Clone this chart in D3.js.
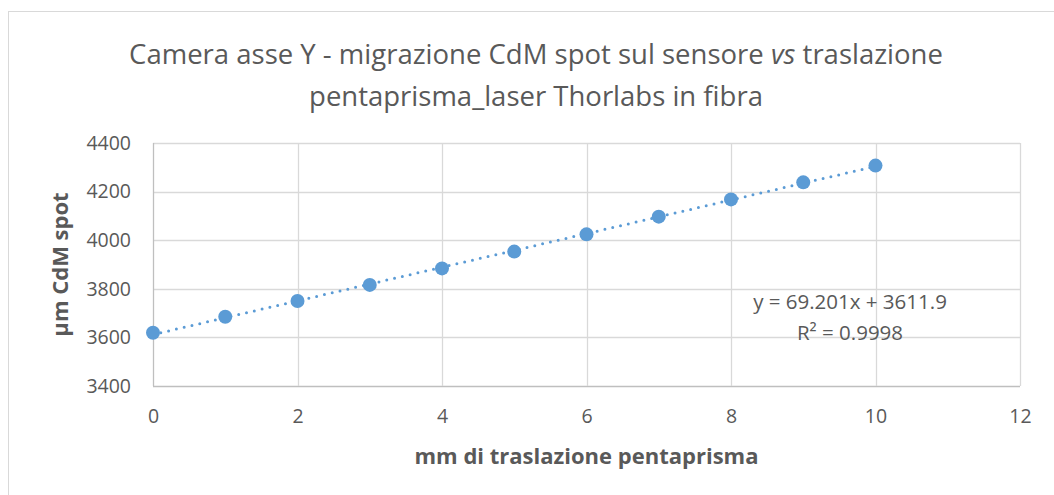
<!DOCTYPE html>
<html>
<head>
<meta charset="utf-8">
<script src="https://cdnjs.cloudflare.com/ajax/libs/d3/7.8.5/d3.min.js"></script>
<style>
  body { margin: 0; background: #fff; }
  svg text { font-family: "Open Sans", "Noto Sans", sans-serif; fill: #595959; }
</style>
</head>
<body>
<div id="chart"></div>
<script>
"use strict";
// data
var xValues = [0, 1, 2, 3, 4, 5, 6, 7, 8, 9, 10];
var yValues = [3619, 3685, 3750, 3816, 3884, 3953, 4024, 4097, 4168, 4238, 4307];
var xTicks = [0, 2, 4, 6, 8, 10, 12];
var yTicks = [3400, 3600, 3800, 4000, 4200, 4400];
var trendSlope = 69.201;
var trendIntercept = 3611.9;
var trendRange = [0, 10];

var width = 1054, height = 495;
var margin = { left: 153, right: 34, top: 143, bottom: 109 };

var svg = d3.select('#chart').append('svg')
    .attr('width', width)
    .attr('height', height);

// outer chart frame (runs past the right and bottom edges)
svg.append('rect')
    .attr('x', 8.5).attr('y', 11.5)
    .attr('width', width + 20).attr('height', height + 20)
    .attr('fill', 'none').attr('stroke', '#d9d9d9');

var x = d3.scaleLinear().domain([0, 12]).range([margin.left, width - margin.right]);
var y = d3.scaleLinear().domain([3400, 4400]).range([height - margin.bottom, margin.top]);

// grid
svg.append('g').selectAll('line').data(yTicks).enter().append('line')
    .attr('x1', x(0)).attr('x2', x(12))
    .attr('y1', function (d) { return Math.round(y(d)) + 0.5; })
    .attr('y2', function (d) { return Math.round(y(d)) + 0.5; })
    .attr('stroke', function (d) { return d === 3400 ? '#bfbfbf' : '#d9d9d9'; })
    .attr('stroke-width', 1.3);
svg.append('g').selectAll('line').data(xTicks).enter().append('line')
    .attr('y1', y(3400)).attr('y2', y(4400))
    .attr('x1', function (d) { return Math.round(x(d)) + 0.5; })
    .attr('x2', function (d) { return Math.round(x(d)) + 0.5; })
    .attr('stroke', function (d) { return d === 0 ? '#bfbfbf' : '#d9d9d9'; })
    .attr('stroke-width', 1.3);

// tick labels
var xAxis = svg.append('g')
    .attr('transform', 'translate(0,' + y(3400) + ')')
    .call(d3.axisBottom(x).tickValues(xTicks).tickFormat(d3.format('d')).tickSize(0).tickPadding(23));
var yAxis = svg.append('g')
    .attr('transform', 'translate(' + x(0) + ',0)')
    .call(d3.axisLeft(y).tickValues(yTicks).tickFormat(d3.format('d')).tickSize(0).tickPadding(22));
[xAxis, yAxis].forEach(function (a) {
    a.select('.domain').remove();
    a.selectAll('text').attr('font-size', '19.5px').style('font-family', '"Open Sans", sans-serif').attr('fill', '#595959');
});

// trendline
var trend = trendRange.map(function (v) { return [v, trendSlope * v + trendIntercept]; });
svg.append('path')
    .datum(trend)
    .attr('d', d3.line().x(function (d) { return x(d[0]); }).y(function (d) { return y(d[1]); }))
    .attr('fill', 'none')
    .attr('stroke', '#5b9bd5')
    .attr('stroke-width', 3)
    .attr('stroke-linecap', 'round')
    .attr('stroke-dasharray', '0 8');

// points
svg.append('g').selectAll('circle').data(xValues).enter().append('circle')
    .attr('cx', function (d) { return x(d); })
    .attr('cy', function (d, i) { return y(yValues[i]); })
    .attr('r', 7)
    .attr('fill', '#5b9bd5');

// equation
var eq = svg.append('text').attr('text-anchor', 'middle').attr('font-size', '20.5px');
eq.append('tspan').attr('x', 850).attr('y', 309).text('y = 69.201x + 3611.9');
eq.append('tspan').attr('x', 850).attr('y', 340).text('R² = 0.9998');

// title
var title = svg.append('text').attr('text-anchor', 'middle').attr('font-size', '27.5px');
var l1 = title.append('tspan').attr('x', 536).attr('y', 64);
l1.append('tspan').text('Camera asse Y - migrazione CdM spot sul sensore ');
l1.append('tspan').attr('font-style', 'italic').text('vs');
l1.append('tspan').text(' traslazione');
title.append('tspan').attr('x', 536).attr('y', 106).text('pentaprisma_laser Thorlabs in fibra');

// axis titles
svg.append('text')
    .attr('x', (x(0) + x(12)) / 2).attr('y', 464)
    .attr('text-anchor', 'middle').attr('font-size', '22px').attr('font-weight', 'bold')
    .text('mm di traslazione pentaprisma');
svg.append('text')
    .attr('transform', 'translate(68,' + y(3900) + ') rotate(-90)')
    .attr('text-anchor', 'middle').attr('font-size', '22px').attr('font-weight', 'bold')
    .text('µm CdM spot');
</script>
</body>
</html>
